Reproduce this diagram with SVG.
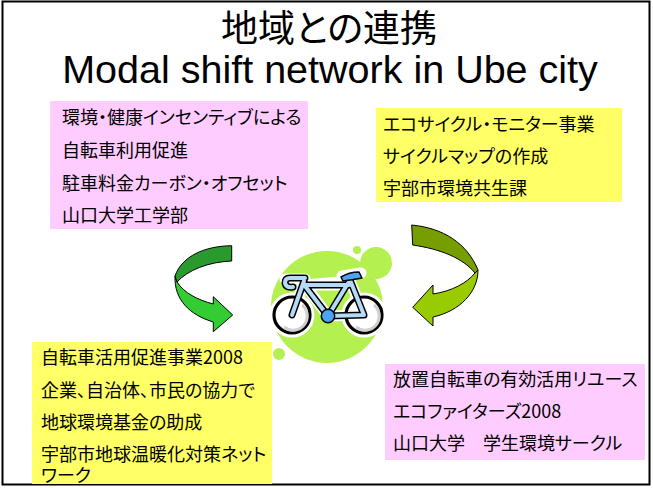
<svg xmlns="http://www.w3.org/2000/svg" width="653" height="488" viewBox="0 0 653 488">
<style>
.jp { font-family: "Noto Sans CJK JP", "Noto Sans CJK SC", sans-serif; font-size: 18px; font-feature-settings: "palt" 1; fill: #000; }
.tjp { font-family: "Noto Sans CJK JP", "Noto Sans CJK SC", sans-serif; font-size: 37px; font-feature-settings: "palt" 1; fill: #000; }
.en { font-family: "Liberation Sans", Arial, sans-serif; font-size: 39.5px; fill: #000; }
.pink { fill: #ffccff; }
.yellow { fill: #ffff66; }
.lime { fill: #b4f050; }
.ol { stroke: #000; stroke-width: 1; stroke-linejoin: round; }
.halo { fill: none; stroke: #fff; stroke-width: 11; stroke-linecap: round; stroke-linejoin: round; }
.tubeo { fill: none; stroke: #000; stroke-width: 7; stroke-linecap: round; stroke-linejoin: round; }
.tubei { fill: none; stroke: #b3dbf8; stroke-width: 4; stroke-linecap: round; stroke-linejoin: round; }
</style>
<rect x="0" y="0" width="653" height="488" fill="#fff"/>
<rect id="frame" x="2.5" y="1.5" width="647" height="483" fill="none" stroke="#000" stroke-width="2"/>
<g id="title">
<text class="tjp" x="329" y="42" text-anchor="middle">地域との連携</text>
<text class="en" x="330" y="83" text-anchor="middle">Modal shift network in Ube city</text>
</g>
<g id="box-tl">
<rect class="pink" x="50" y="101" width="258" height="128"/>
<text class="jp" x="62" y="124">環境・健康インセンティブによる</text>
<text class="jp" x="62" y="157">自転車利用促進</text>
<text class="jp" x="62" y="190">駐車料金カーボン・オフセット</text>
<text class="jp" x="62" y="222">山口大学工学部</text>
</g>
<g id="box-tr">
<rect class="yellow" x="376" y="108" width="246" height="94"/>
<text class="jp" x="383" y="131">エコサイクル・モニター事業</text>
<text class="jp" x="383" y="163">サイクルマップの作成</text>
<text class="jp" x="383" y="195">宇部市環境共生課</text>
</g>
<g id="box-bl">
<rect class="yellow" x="32" y="342" width="240" height="142"/>
<text class="jp" x="41" y="364">自転車活用促進事業2008</text>
<text class="jp" x="41" y="397">企業、自治体、市民の協力で</text>
<text class="jp" x="41" y="429">地球環境基金の助成</text>
<text class="jp" x="41" y="461">宇部市地球温暖化対策ネット</text>
<text class="jp" x="41" y="482">ワーク</text>
</g>
<g id="box-br">
<rect class="pink" x="385" y="364" width="260" height="96"/>
<text class="jp" x="393" y="386">放置自転車の有効活用リユース</text>
<text class="jp" x="393" y="418">エコファイターズ2008</text>
<text class="jp" x="393" y="450">山口大学　学生環境サークル</text>
</g>
<g id="bicycle">
<circle class="lime" cx="327" cy="307" r="56"/>
<circle class="lime" cx="376" cy="263" r="16"/>
<circle class="lime" cx="357" cy="250" r="4"/>
<circle class="lime" cx="279" cy="354" r="6"/>
<circle cx="292" cy="315" r="18" fill="none" stroke="#fff" stroke-width="9"/>
<circle cx="364" cy="315" r="18" fill="none" stroke="#fff" stroke-width="9"/>
<path class="halo" d="M304,282 L292,315 M305,285 L328,316 L364,315 L350,281 Z M305,285 L349,285 M285,279 L305,279 M342,276 L361,273"/>
<circle cx="292" cy="315" r="18" fill="#fff" stroke="#000" stroke-width="3.2"/>
<circle cx="364" cy="315" r="18" fill="#fff" stroke="#000" stroke-width="3.2"/>
<path d="M302,305 A14,14 0 0 1 284,327" fill="none" stroke="#d0d0d0" stroke-width="3"/>
<path d="M374,305 A14,14 0 0 1 356,327" fill="none" stroke="#d0d0d0" stroke-width="3"/>
<path class="tubeo" d="M304,281 L292,315 M305,286 L328,316 L364,315 L350,280 L328,316 M305,285 L349,285 M305,278 L290,278 Q285,278 285,283 Q286,288 293,287"/>
<path class="tubei" d="M304,281 L292,315 M305,286 L328,316 L364,315 L350,280 L328,316 M305,285 L349,285 M305,278 L290,278 Q285,278 285,283 Q286,288 293,287"/>
<path d="M341,277 Q349,272 359,272 L362,278 Q352,280 343,281 Z" fill="#4aa3f5" stroke="#000" stroke-width="1.5" stroke-linejoin="round"/>
<circle cx="328" cy="316" r="6.7" fill="#4aa3f5" stroke="#000" stroke-width="1.5"/>
</g>
<g id="connectors">
<g id="arrow-left">
<path d="M175,276 C174,300 190,315 213.3,322 L213.3,331.7 L232.7,315 L213.3,296.7 L213.3,304 C198,300 184,293 177,282 Z" fill="#33cc33" class="ol"/>
<path d="M231.7,245.7 C205,246 182,256 175,276 L177,282 C188,270 208,262 231.7,261 Z" fill="#2a9a2e" class="ol"/>
</g>
<g id="arrow-right">
<path d="M478,270 C478,292 460,311 433,317 L433,326 L412.7,307.3 L433,285 L433,294 C452,291 467,283 475,273 Z" fill="#99cc00" class="ol"/>
<path d="M411.7,225 C443,228 467,243 478,270 L475,273 C463,258 440,249 412.7,245 Z" fill="#779e00" class="ol"/>
</g>
</g>
</svg>
